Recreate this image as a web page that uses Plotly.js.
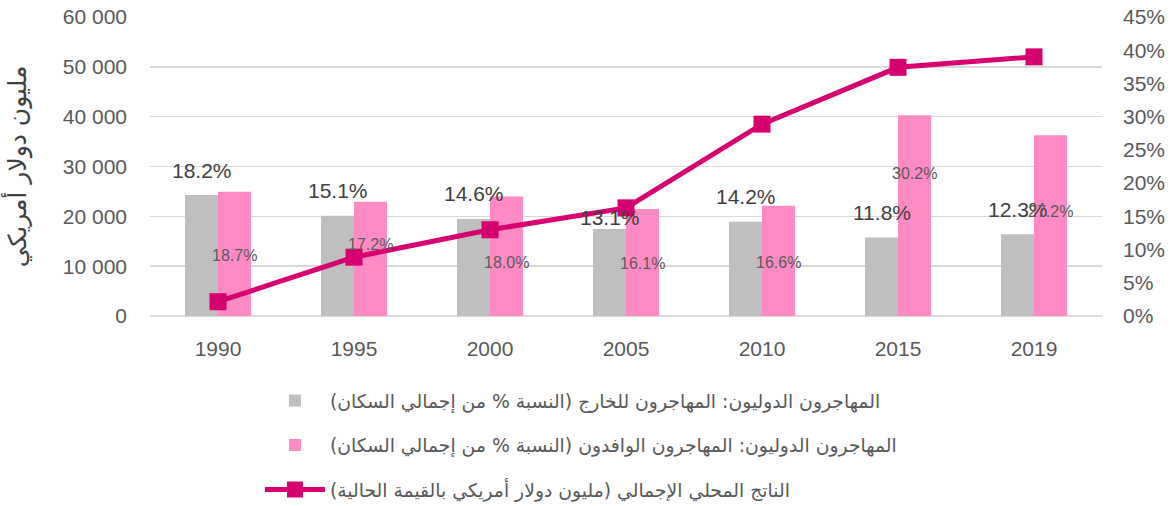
<!DOCTYPE html>
<html>
<head>
<meta charset="utf-8">
<script src="https://cdn.plot.ly/plotly-3.0.1.min.js"></script>
<style>html,body{margin:0;padding:0;background:#fff;}#chart{width:1176px;height:506px;}</style>
</head>
<body>
<div id="chart"></div>
<script>
// ---- data ----
var years = ['1990', '1995', '2000', '2005', '2010', '2015', '2019'];
var emigrantsPct = [18.2, 15.1, 14.6, 13.1, 14.2, 11.8, 12.3];   // grey bars (% of population)
var immigrantsPct = [18.7, 17.2, 18.0, 16.1, 16.6, 30.2, 27.2];  // pink bars (% of population)
var gdpMillions = [2870, 11800, 17300, 21700, 38500, 49900, 52000]; // line (million USD)

var nameEmigrants = 'المهاجرون الدوليون: المهاجرون للخارج (النسبة % من إجمالي السكان)';
var nameImmigrants = 'المهاجرون الدوليون: المهاجرون الوافدون (النسبة % من إجمالي السكان)';
var nameGdp = 'الناتج المحلي الإجمالي (مليون دولار أمريكي بالقيمة الحالية)';
var leftAxisTitle = 'مليون دولار أمريكي';

// ---- label placement (style only) ----
var greyLabelLift = [25, 25, 25, 11, 25, 25, 25];                  // px above bar top
var pinkLabelFrac = [0.49, 0.63, 0.445, 0.49, 0.487, 0.708, 0.58]; // fraction of bar height
var barHalf = 16.5;

var GREY = '#BFBFBF', PINK = '#FF8AC4', LINE = '#D6006E';
var LAT = 'Liberation Sans, Arial, sans-serif';
var TICKFONT = {family: LAT, size: 21, color: '#595959'};
var AR = 'DejaVu Sans, sans-serif';
var RLM = '\u200F';

var traces = [
  {type: 'bar', x: years, y: emigrantsPct, name: RLM + nameEmigrants + RLM, yaxis: 'y',
   marker: {color: GREY}, legendgroup: 'g1', hoverinfo: 'skip'},
  {type: 'bar', x: years, y: immigrantsPct, name: RLM + nameImmigrants + RLM, yaxis: 'y',
   marker: {color: PINK}, legendgroup: 'g2', hoverinfo: 'skip'},
  {type: 'scatter', mode: 'lines+markers', x: years, y: gdpMillions, name: RLM + nameGdp + RLM, yaxis: 'y2',
   line: {color: LINE, width: 5}, marker: {symbol: 'square', size: 17, color: LINE},
   legendgroup: 'g3', hoverinfo: 'skip'}
];

// category axes: annotation x given as the category's serial index
var annotations = [];
years.forEach(function (yr, i) {
  annotations.push({
    x: i, y: emigrantsPct[i], xref: 'x', yref: 'y', xshift: -barHalf, yshift: greyLabelLift[i],
    text: emigrantsPct[i].toFixed(1) + '%', showarrow: false, yanchor: 'middle', xanchor: 'center',
    font: {family: LAT, size: 21, color: '#404040'}
  });
  annotations.push({
    x: i, y: immigrantsPct[i] * pinkLabelFrac[i], xref: 'x', yref: 'y', xshift: barHalf,
    text: immigrantsPct[i].toFixed(1) + '%', showarrow: false, yanchor: 'middle', xanchor: 'center',
    font: {family: LAT, size: 16, color: '#595959'}
  });
});

var layout = {
  width: 1176, height: 506,
  margin: {l: 150, r: 74, t: 17, b: 190, autoexpand: false},
  paper_bgcolor: '#ffffff', plot_bgcolor: '#ffffff',
  separators: '. ',
  barmode: 'group', bargap: 0.515, bargroupgap: 0,
  showlegend: true,
  legend: {
    x: 0.1155, y: -0.22, xanchor: 'left', yanchor: 'top',
    traceorder: 'grouped', tracegroupgap: 17, itemwidth: 60,
    font: {family: AR, size: 18.8, color: '#595959'}, bgcolor: 'rgba(0,0,0,0)'
  },
  xaxis: {type: 'category', showgrid: false, ticks: '', tickfont: TICKFONT, ticklabelstandoff: 18},
  yaxis: {side: 'right', range: [0, 45], tickmode: 'linear', tick0: 0, dtick: 5, ticksuffix: '%',
    showgrid: false, zeroline: false, ticks: '', tickfont: TICKFONT, ticklabelstandoff: 20},
  yaxis2: {overlaying: 'y', side: 'left', range: [0, 60000], tickmode: 'linear', tick0: 0, dtick: 10000,
    tickformat: ',d', gridcolor: '#D9D9D9', gridwidth: 1.5, zerolinecolor: '#D9D9D9', zerolinewidth: 1.5,
    ticks: '', tickfont: TICKFONT, ticklabelstandoff: 22,
    title: {text: leftAxisTitle, font: {family: AR, size: 25, color: '#404040'}, standoff: 34}},
  annotations: annotations
};

Plotly.newPlot('chart', traces, layout, {displayModeBar: false, staticPlot: true});
</script>
</body>
</html>
